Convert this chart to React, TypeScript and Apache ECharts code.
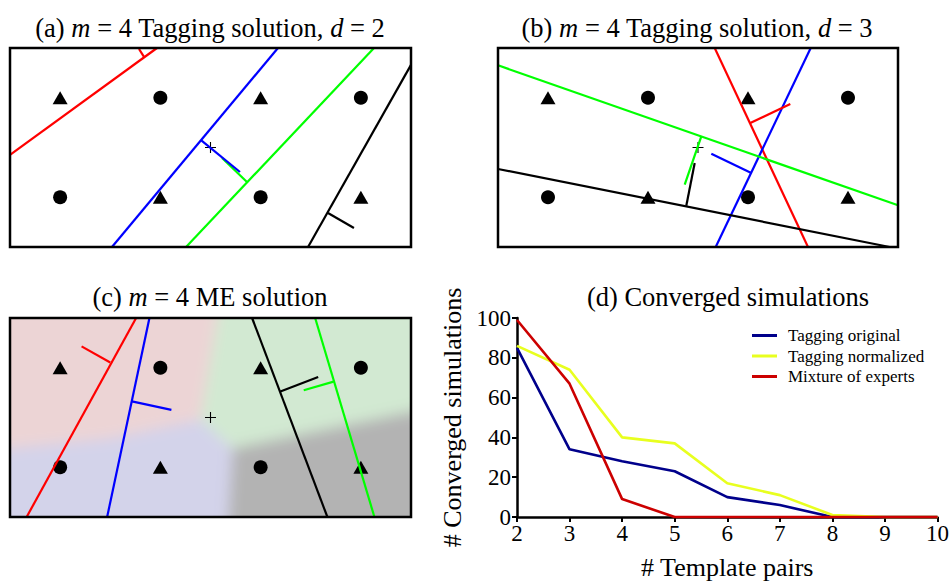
import { useEffect, useRef } from 'react';
import * as echarts from 'echarts';

const SERIF = "'Liberation Serif', 'Times New Roman', serif";

// Colour code of the four experts / templates in panels (a)-(c): red, blue, green, black.
const expertColors = ['#ff0000', '#0000ff', '#00ff00', '#000000'];

// Stimulus layout shared by panels (a)-(c): a 4 x 2 field with two classes.
const trianglePoints = [[0.5, 1.5], [2.5, 1.5], [1.5, 0.5], [3.5, 0.5]];
const circlePoints = [[1.5, 1.5], [3.5, 1.5], [0.5, 0.5], [2.5, 0.5]];
const centerPoint = [[2, 1]];

// (a) Tagging solution, d = 2: decision boundaries and normal stubs (red, blue, green, black).
const tagD2Boundaries = [
  [[0, 0.925], [1.466, 2]],
  [[1.017, 0], [2.673, 2]],
  [[1.756, 0], [3.631, 2]],
  [[2.973, 0], [4, 1.83]],
];
const tagD2Normals = [
  [[1.337, 1.91], [1.287, 1.99]],
  [[1.905, 1.075], [2.294, 0.754]],
  [[2.364, 0.653], [2.115, 0.894]],
  [[3.172, 0.342], [3.431, 0.191]],
];

// (b) Tagging solution, d = 3.
const tagD3Boundaries = [
  [[2.167, 2], [3.1, 0]],
  [[3.127, 2], [2.177, 0]],
  [[0, 1.826], [4, 0.419]],
  [[0, 0.784], [3.917, 0]],
];
const tagD3Normals = [
  [[2.523, 1.246], [2.923, 1.437]],
  [[2.533, 0.744], [2.133, 0.938]],
  [[2.033, 1.112], [1.867, 0.626]],
  [[1.883, 0.415], [1.967, 0.844]],
];

// (c) Mixture-of-experts solution.
const meBoundaries = [
  [[0.166, 0], [1.258, 2]],
  [[0.969, 0], [1.391, 2]],
  [[3.044, 2], [3.635, 0]],
  [[2.415, 2], [3.166, 0]],
];
const meNormals = [
  [[1.0, 1.552], [0.714, 1.715]],
  [[1.216, 1.162], [1.61, 1.076]],
  [[3.228, 1.36], [2.93, 1.274]],
  [[2.697, 1.262], [3.074, 1.408]],
];

// Gating regions of the ME solution (pink, lavender, green, grey), field coordinates.
const gateRegions = [
  [[0, 2], [2.12, 2], [1.9, 0.98], [1.0, 0.79], [0, 0.66]],
  [[0, 0], [2.16, 0], [2.22, 0.69], [1.9, 0.98], [1.0, 0.79], [0, 0.66]],
  [[2.12, 2], [4, 2], [4, 1.12], [2.22, 0.69], [1.9, 0.98]],
  [[2.16, 0], [4, 0], [4, 1.12], [2.22, 0.69]],
];
const gateColors = ['#ecd4d5', '#d3d3ea', '#d2e9d2', '#b3b3b3'];

// (d) Converged simulations against the number of template pairs.
const templatePairs = [2, 3, 4, 5, 6, 7, 8, 9, 10];
const taggingOriginal = [85, 34, 28, 23, 10, 6, 0, 0, 0];
const taggingNormalized = [86, 74, 40, 37, 17, 11, 1, 0, 0];
const mixtureOfExperts = [99, 67, 9, 0, 0, 0, 0, 0, 0];
const curveNames = ['Tagging original', 'Tagging normalized', 'Mixture of experts'];
const curveColors = ['#00008b', '#e8ff1f', '#cc0000'];

const panelBoxes = [
  { left: 10, top: 48, width: 401, height: 199 },
  { left: 498, top: 48, width: 400, height: 199 },
  { left: 10, top: 318, width: 401, height: 199 },
];
const plotBox = { left: 517, top: 318, width: 425, height: 199 };

const PLUS = 'path://M4.5,0h1v10h-1zM0,4.5h10v1h-10z';

function gateImage(w: number, h: number): string {
  const toPx = ([x, y]: number[]) => {
    let px = (x / 4) * w;
    let py = ((2 - y) / 2) * h;
    if (x <= 0) px = -30;
    if (x >= 4) px = w + 30;
    if (y <= 0) py = h + 30;
    if (y >= 2) py = -30;
    return `${px.toFixed(1)},${py.toFixed(1)}`;
  };
  const polys = gateRegions
    .map((r, i) => `<polygon points="${r.map(toPx).join(' ')}" fill="${gateColors[i]}"/>`)
    .join('');
  const svg =
    `<svg xmlns="http://www.w3.org/2000/svg" width="${w}" height="${h}" viewBox="0 0 ${w} ${h}">` +
    `<defs><filter id="soft" x="-20%" y="-20%" width="140%" height="140%"><feGaussianBlur stdDeviation="7"/></filter></defs>` +
    `<g filter="url(#soft)">${polys}</g></svg>`;
  return 'data:image/svg+xml;charset=utf-8,' + encodeURIComponent(svg);
}

function geometrySeries(gi: number, boundaries: number[][][], normals: number[][][]) {
  const base = { xAxisIndex: gi, yAxisIndex: gi, silent: true };
  const dot = { color: '#000', opacity: 1 };
  const out: any[] = [
    { ...base, type: 'scatter', data: trianglePoints, symbol: 'triangle', symbolSize: [15, 13], itemStyle: dot, z: 2 },
    { ...base, type: 'scatter', data: circlePoints, symbol: 'circle', symbolSize: 14, itemStyle: dot, z: 2 },
    { ...base, type: 'scatter', data: centerPoint, symbol: PLUS, symbolSize: 11, itemStyle: dot, z: 2 },
  ];
  boundaries.forEach((seg, k) => {
    out.push({ ...base, type: 'line', data: seg, symbol: 'none', clip: false, lineStyle: { color: expertColors[k], width: 2.2 }, z: 3 });
  });
  for (let k = normals.length - 1; k >= 0; k--) {
    out.push({ ...base, type: 'line', data: normals[k], symbol: 'none', clip: false, lineStyle: { color: expertColors[k], width: 2.2 }, z: 4 });
  }
  return out;
}

function titleText(x: number, y: number, text: string) {
  return {
    type: 'text',
    x,
    y,
    z: 10,
    style: {
      text,
      x: 0,
      y: 0,
      fill: '#000',
      fontSize: 26.5,
      fontFamily: SERIF,
      align: 'center',
      verticalAlign: 'middle',
      rich: { i: { fontStyle: 'italic', fontSize: 26.5, fontFamily: SERIF, fill: '#000' } },
    },
  };
}

export default function App() {
  const ref = useRef<HTMLDivElement>(null);

  useEffect(() => {
    if (!ref.current) return;
    const chart = echarts.init(ref.current, undefined, { renderer: 'svg' });

    const grids: any[] = panelBoxes.map((b) => ({ ...b, show: false }));
    grids.push({ ...plotBox, show: false });

    const xAxes: any[] = panelBoxes.map((_, i) => ({ gridIndex: i, type: 'value', min: 0, max: 4, show: false }));
    const yAxes: any[] = panelBoxes.map((_, i) => ({ gridIndex: i, type: 'value', min: 0, max: 2, show: false }));

    const axisText = { fontFamily: SERIF, fontSize: 23, color: '#000' };
    const nameText = { fontFamily: SERIF, fontSize: 26, color: '#000' };
    xAxes.push({
      gridIndex: 3,
      type: 'value',
      min: 2,
      max: 10,
      interval: 1,
      axisLine: { show: true, onZero: false, lineStyle: { color: '#000', width: 2.5 } },
      axisTick: { show: true, length: 5, lineStyle: { color: '#000', width: 2 } },
      axisLabel: { ...axisText, margin: 5 },
      splitLine: { show: false },
      name: '# Template pairs',
      nameLocation: 'middle',
      nameGap: 37,
      nameTextStyle: nameText,
    });
    yAxes.push({
      gridIndex: 3,
      type: 'value',
      min: 0,
      max: 100,
      interval: 20,
      axisLine: { show: true, onZero: false, lineStyle: { color: '#000', width: 2.5 } },
      axisTick: { show: true, length: 5, lineStyle: { color: '#000', width: 2 } },
      axisLabel: { ...axisText, margin: 6 },
      splitLine: { show: false },
      name: '# Converged simulations',
      nameLocation: 'middle',
      nameGap: 52,
      nameTextStyle: nameText,
    });

    const curves = [taggingOriginal, taggingNormalized, mixtureOfExperts].map((vals, i) => ({
      type: 'line',
      name: curveNames[i],
      xAxisIndex: 3,
      yAxisIndex: 3,
      data: templatePairs.map((x, j) => [x, vals[j]]),
      symbol: 'none',
      clip: false,
      silent: true,
      lineStyle: { color: curveColors[i], width: 2.6 },
      itemStyle: { color: curveColors[i] },
      z: 3 + i,
    }));

    const series = [
      ...geometrySeries(0, tagD2Boundaries, tagD2Normals),
      ...geometrySeries(1, tagD3Boundaries, tagD3Normals),
      ...geometrySeries(2, meBoundaries, meNormals),
      ...curves,
    ];

    const c = panelBoxes[2];
    const elements: any[] = [
      {
        type: 'image',
        x: c.left,
        y: c.top,
        z: -1,
        silent: true,
        style: { image: gateImage(c.width, c.height), width: c.width, height: c.height },
      },
      ...panelBoxes.map((b) => ({
        type: 'rect',
        z: 20,
        silent: true,
        shape: { x: b.left, y: b.top, width: b.width, height: b.height },
        style: { fill: 'none', stroke: '#000', lineWidth: 2.5 },
      })),
      titleText(210, 28, '(a) {i|m} = 4 Tagging solution, {i|d} = 2'),
      titleText(697, 28, '(b) {i|m} = 4 Tagging solution, {i|d} = 3'),
      titleText(210, 297, '(c) {i|m} = 4 ME solution'),
      titleText(728, 297, '(d) Converged simulations'),
    ];

    chart.setOption({
      animation: false,
      backgroundColor: '#fff',
      textStyle: { fontFamily: SERIF, color: '#000' },
      grid: grids,
      xAxis: xAxes,
      yAxis: yAxes,
      legend: {
        orient: 'vertical',
        left: 747,
        top: 322,
        itemWidth: 25,
        itemHeight: 3,
        itemGap: 3.5,
        icon: 'rect',
        selectedMode: false,
        data: curveNames,
        textStyle: {
          fontFamily: SERIF,
          fontSize: 17,
          color: '#000',
          padding: [0, 0, 0, 6],
        },
      },
      graphic: { elements },
      series,
    });

    return () => chart.dispose();
  }, []);

  return <div ref={ref} style={{ position: 'fixed', left: 0, top: 0, width: 952, height: 583 }} />;
}
